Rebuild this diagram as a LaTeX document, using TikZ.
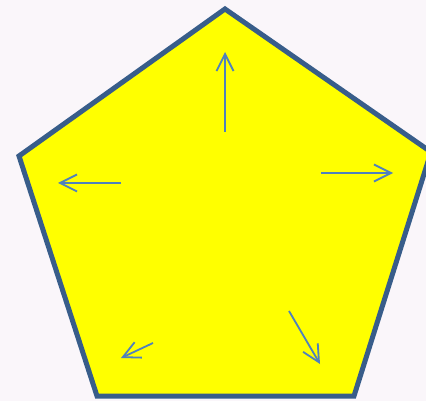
\documentclass[tikz,border=0pt]{standalone}
\usepackage{tikz}
\usetikzlibrary{arrows.meta}
\definecolor{edgeblue}{RGB}{56,93,138}
\definecolor{arrowblue}{RGB}{79,129,189}
\definecolor{bgpink}{RGB}{250,246,250}
\definecolor{fillyellow}{RGB}{255,255,0}
\tikzset{
  outline/.style={line width=5pt, draw=edgeblue, fill=fillyellow, line join=miter},
  push/.style={line width=1.8pt, arrowblue, -{Straight Barb[length=17pt,width=17pt,line width=1.8pt]}}
}

\begin{document}
\begin{tikzpicture}[x=1pt, y=-1pt]
        % Background
        \fill[bgpink] (0,0) rectangle (426,401);
        \useasboundingbox (0,0) rectangle (426,401);
        \clip (0,0) rectangle (426,401);
        % Pentagon
        \coordinate (top) at (225,9);
        \coordinate (rgt) at (431,152);
        \coordinate (brt) at (354,396);
        \coordinate (blt) at (97,396);
        \coordinate (lft) at (19,156);
        \draw[outline] (top) -- (rgt) -- (brt) -- (blt) -- (lft) -- cycle;
        % Arrows pointing outward
        \foreach \s/\e [count=\i] in {{225,132}/{225,52}, {121,183}/{58,183}, {321,173}/{393,173},
                                     {289,311}/{320,364}, {153,343}/{121,358}} {
          \coordinate (s\i) at (\s);
          \coordinate (e\i) at (\e);
          \draw[push] (s\i) -- (e\i);
        }
      \end{tikzpicture}
\end{document}
